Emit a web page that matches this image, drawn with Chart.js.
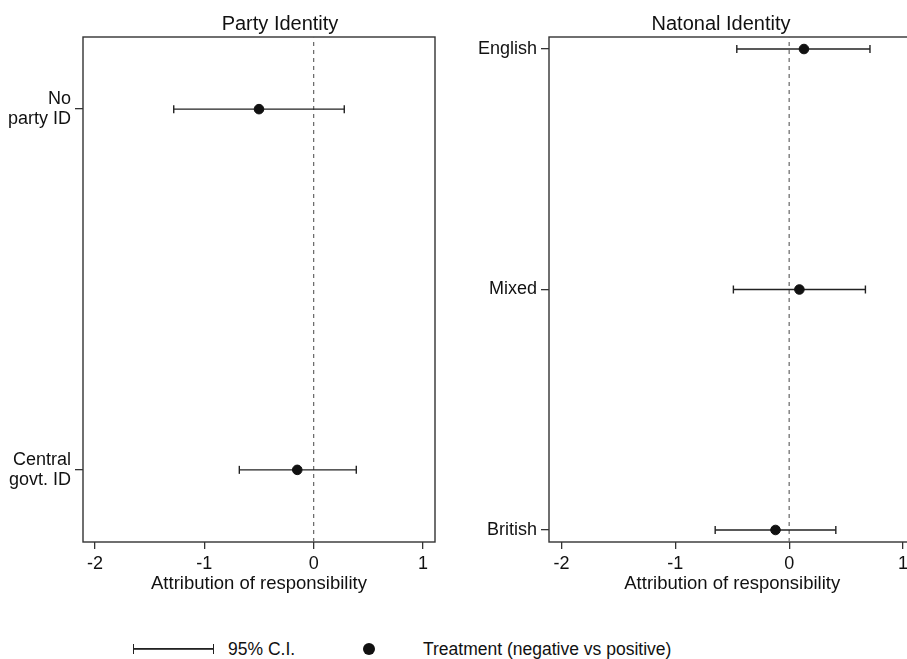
<!DOCTYPE html>
<html>
<head>
<meta charset="utf-8">
<script src="https://cdn.jsdelivr.net/npm/chart.js@4.4.1/dist/chart.umd.min.js"></script>
<style>
    html, body { margin: 0; padding: 0; background: #fff; overflow: hidden; }
    body { width: 907px; height: 659px; position: relative; font-family: 'Liberation Sans', Arial, sans-serif; color: #111; }
    canvas { position: absolute; top: 0; }
    #party { left: 0; }
    #nation { left: 460px; }
    .leg { position: absolute; font-size: 17.5px; line-height: 20px; top: 639px; white-space: nowrap; }
    .ci-key { position: absolute; left: 133px; top: 644px; width: 79px; height: 10px;
        border-left: 1.8px solid #222; border-right: 1.8px solid #222;
        background: linear-gradient(#222, #222) center / 100% 1.8px no-repeat; }
    .dot-key { position: absolute; left: 363px; top: 643px; width: 12px; height: 12px; border-radius: 50%; background: #111; }
</style>
</head>
<body>
<canvas id="party" width="450" height="600"></canvas>
<canvas id="nation" width="470" height="600"></canvas>

<div class="ci-key"></div>
<div class="leg" style="left:228px">95% C.I.</div>
<div class="dot-key"></div>
<div class="leg" style="left:423px">Treatment (negative vs positive)</div>

<script>
/** Data */
const xTicks = [-2, -1, 0, 1];
const xTitle = 'Attribution of responsibility';

// Party Identity panel (top to bottom)
const partyLabels = [['No', 'party ID'], ['Central', 'govt. ID']];
const partyPos = [2, 1];
const partyEst = [-0.50, -0.15];
const partyLo = [-1.28, -0.68];
const partyHi = [0.28, 0.39];

// National Identity panel (top to bottom)
const natLabels = ['English', 'Mixed', 'British'];
const natPos = [3, 2, 1];
const natEst = [0.13, 0.09, -0.12];
const natLo = [-0.46, -0.49, -0.65];
const natHi = [0.71, 0.67, 0.41];

/** Helpers */
const FONT = "'Liberation Sans', Arial, sans-serif";
const INK = '#222';

// draws the frame round the plot area
const boxPlugin = {
    id: 'box',
    beforeDatasetsDraw: function (chart) {
        const a = chart.chartArea;
        const ctx = chart.ctx;
        ctx.save();
        ctx.strokeStyle = '#333';
        ctx.lineWidth = 1.4;
        ctx.strokeRect(a.left, a.top, a.right - a.left, a.bottom - a.top);
        ctx.restore();
    }
};

// moves the title block so the text is centred where the original had it
const titleShiftPlugin = {
    id: 'titleShift',
    afterLayout: function (chart, args, opts) {
        const tb = chart.titleBlock;
        if (!tb || opts.center == null) return;
        const half = 150;
        tb.left = opts.center - half;
        tb.right = opts.center + half;
        tb.width = half * 2;
    }
};

function buildPanel(id, title, titleCenter, labels, pos, est, lo, hi, yMin, yMax, yWidth, padRight) {
    let datasets = [];
    // point estimates on top
    datasets.push({
        data: pos.map((p, i) => ({ x: est[i], y: p })),
        pointRadius: 4.8,
        pointHoverRadius: 4.8,
        pointBackgroundColor: '#111',
        pointBorderColor: '#111'
    });
    // confidence intervals
    for (let i = 0; i < pos.length; i++) {
        datasets.push({
            data: [{ x: lo[i], y: pos[i] }, { x: hi[i], y: pos[i] }],
            showLine: true,
            borderColor: INK,
            borderWidth: 1.4,
            pointStyle: 'line',
            rotation: 90,
            pointRadius: 4,
            pointHoverRadius: 4,
            pointBorderWidth: 1.4,
            pointBorderColor: INK
        });
    }
    // zero reference line
    datasets.push({
        data: [{ x: 0, y: yMin }, { x: 0, y: yMax }],
        showLine: true,
        borderColor: '#666',
        borderWidth: 1.2,
        borderDash: [4, 4],
        pointRadius: 0
    });

    return new Chart(document.getElementById(id), {
        type: 'scatter',
        data: { datasets: datasets },
        plugins: [boxPlugin, titleShiftPlugin],
        options: {
            responsive: false,
            animation: false,
            devicePixelRatio: 1,
            layout: { padding: { left: 0, right: padRight, top: 0, bottom: 0 } },
            plugins: {
                legend: { display: false },
                tooltip: { enabled: false },
                titleShift: { center: titleCenter },
                title: {
                    display: true,
                    text: title,
                    color: '#111',
                    font: { family: FONT, size: 20, weight: 'normal', lineHeight: 1.2 },
                    padding: { top: 12, bottom: 1 }
                }
            },
            scales: {
                x: {
                    type: 'linear',
                    min: -2.11,
                    max: 1.11,
                    afterBuildTicks: function (scale) {
                        scale.ticks = xTicks.map(v => ({ value: v }));
                    },
                    afterFit: function (scale) {
                        scale.height = 58;
                        scale.paddingLeft = 0;
                        scale.paddingRight = 0;
                    },
                    grid: { display: true, drawOnChartArea: false, drawTicks: true, tickLength: 7, color: '#333', lineWidth: 1.3 },
                    border: { display: false },
                    ticks: {
                        color: '#111',
                        padding: 4,
                        maxRotation: 0,
                        font: { family: FONT, size: 18 },
                        callback: v => String(v)
                    },
                    title: {
                        display: true,
                        text: xTitle,
                        color: '#111',
                        font: { family: FONT, size: 18.5, lineHeight: 1.2 },
                        padding: { top: 0, bottom: 5 }
                    }
                },
                y: {
                    type: 'linear',
                    min: yMin,
                    max: yMax,
                    afterBuildTicks: function (scale) {
                        scale.ticks = pos.map(v => ({ value: v }));
                    },
                    afterFit: function (scale) {
                        scale.width = yWidth;
                    },
                    grid: { display: true, drawOnChartArea: false, drawTicks: true, tickLength: 8, color: '#333', lineWidth: 1.3 },
                    border: { display: false },
                    ticks: {
                        color: '#111',
                        padding: 4,
                        font: { family: FONT, size: 18, lineHeight: 1.08 },
                        callback: v => labels[pos.indexOf(v)]
                    }
                }
            }
        }
    });
}

buildPanel('party', 'Party Identity', 280, partyLabels, partyPos, partyEst, partyLo, partyHi, 0.8, 2.2, 83, 15);
buildPanel('nation', 'Natonal Identity', 261, natLabels, natPos, natEst, natLo, natHi, 0.95, 3.05, 89, 14.5);
</script>
</body>
</html>
